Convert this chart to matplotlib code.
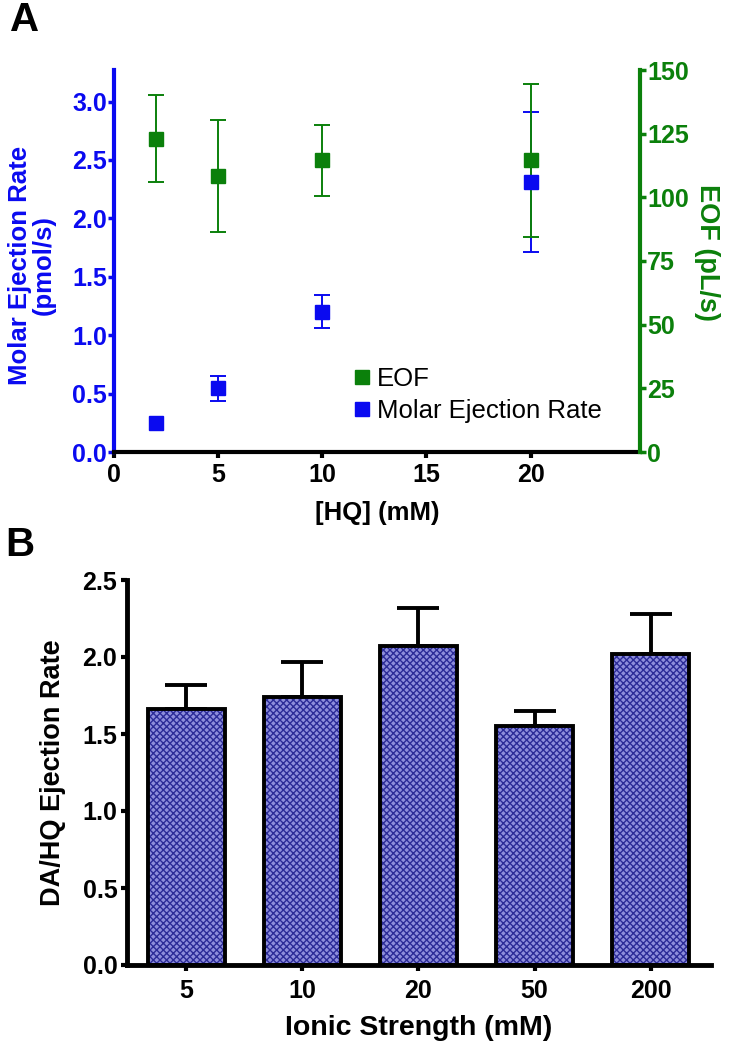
import matplotlib
matplotlib.use("Agg")
import matplotlib.pyplot as plt
from matplotlib.lines import Line2D
import numpy as np

plt.rcParams['font.family'] = ['Liberation Sans', 'DejaVu Sans']

# ---- Panel A data ----
hq = [2, 5, 10, 20]
molar_rate = [0.25, 0.545, 1.20, 2.31]
molar_err = [np.nan, 0.105, 0.14, 0.60]   # first error bar hidden by marker
eof = [123, 108.5, 114.5, 114.5]
eof_err = [17, 22, 14, 30]
a_xticks = [0, 5, 10, 15, 20]
a_yticks = [0.0, 0.5, 1.0, 1.5, 2.0, 2.5, 3.0]
a_y2ticks = [0, 25, 50, 75, 100, 125, 150]

# ---- Panel B data ----
ionic = ['5', '10', '20', '50', '200']
ratio = [1.66, 1.74, 2.07, 1.55, 2.02]
ratio_err = [0.16, 0.23, 0.25, 0.10, 0.26]
b_yticks = [0.0, 0.5, 1.0, 1.5, 2.0, 2.5]

BLUE = '#0a0af0'
GREEN = '#0b800b'
TICK_FS = 18
LAB_FS = 18.5

fig = plt.figure(figsize=(7.38, 10.5), dpi=100)
W, H = 738, 1050

# ================= Panel A =================
axA = fig.add_axes([114/W, 1-452/H, (640-114)/W, (452-70)/H])
axA2 = axA.twinx()

axA.set_xlim(0, 25.25)
axA.set_ylim(0, 3.27)
axA2.set_ylim(0, 150)

axA.errorbar(hq, molar_rate, yerr=molar_err, fmt='none', ecolor=BLUE,
             elinewidth=1.4, capsize=5.5, capthick=1.4, zorder=2)
axA2.errorbar(hq, eof, yerr=eof_err, fmt='s', color=GREEN, ecolor=GREEN,
              markersize=9.5, elinewidth=1.4, capsize=5.5, capthick=1.4, zorder=3)
axA2.plot(hq, molar_rate, 's', color=BLUE, markersize=9.5,
          transform=axA.transData, zorder=4)

for ax in (axA, axA2):
    ax.spines['top'].set_visible(False)
axA.spines['right'].set_visible(False)
axA.spines['left'].set_color(BLUE)
axA.spines['left'].set_linewidth(3)
axA.spines['bottom'].set_linewidth(3)
axA2.spines['left'].set_visible(False)
axA2.spines['bottom'].set_visible(False)
axA2.spines['right'].set_color(GREEN)
axA2.spines['right'].set_linewidth(3)

axA.set_xticks(a_xticks)
axA.set_yticks(a_yticks)
axA.set_yticklabels([f'{v:.1f}' for v in a_yticks])
axA2.set_yticks(a_y2ticks)

axA.tick_params(axis='x', direction='out', length=4, width=3, labelsize=TICK_FS, pad=4)
axA.tick_params(axis='y', direction='out', length=4, width=2.5, colors=BLUE,
                labelsize=TICK_FS, pad=1)
axA2.tick_params(axis='y', direction='out', length=4, width=2.5, colors=GREEN,
                 labelsize=TICK_FS, pad=1)
for lab in axA.get_xticklabels() + axA.get_yticklabels() + axA2.get_yticklabels():
    lab.set_fontweight('bold')

axA.set_xlabel('[HQ] (mM)', fontsize=LAB_FS, fontweight='bold', labelpad=10)
fig.text(32/W, 1-265/H, 'Molar Ejection Rate\n(pmol/s)', fontsize=LAB_FS,
         fontweight='bold', color=BLUE, rotation=90, ha='center', va='center',
         linespacing=0.95, multialignment='center')
fig.text(707/W, 1-252/H, 'EOF (pL/s)', fontsize=19.5, fontweight='bold',
         color=GREEN, rotation=270, ha='center', va='center')

handles = [Line2D([], [], marker='s', color=GREEN, ls='none', markersize=10),
           Line2D([], [], marker='s', color=BLUE, ls='none', markersize=10)]
axA2.legend(handles, ['EOF', 'Molar Ejection Rate'], frameon=False,
            fontsize=18.5, loc='lower left', bbox_to_anchor=(336/W, 1-436/H),
            bbox_transform=fig.transFigure, handletextpad=0.1,
            handlelength=1.0, labelspacing=0.3, borderpad=0)

fig.text(10/W, 1-20/H, 'A', fontsize=29, fontweight='bold', va='center', ha='left')

# ================= Panel B =================
axB = fig.add_axes([127/W, 1-965/H, (711-127)/W, (965-580)/H])
x = np.arange(len(ionic))
axB.bar(x, ratio, width=0.665, color='#8e8edc', edgecolor='#2c2c98',
        hatch='xxxxx', linewidth=0, zorder=2)
axB.bar(x, ratio, width=0.665, facecolor='none', edgecolor='black',
        linewidth=2.8, zorder=3)
axB.errorbar(x, ratio, yerr=[np.zeros(len(ratio)), ratio_err], fmt='none',
             ecolor='black', elinewidth=2.8, capsize=15, capthick=2.8, zorder=1)
axB.set_xlim(-0.51, 4.52)
axB.set_ylim(0, 2.5)
axB.set_xticks(x)
axB.set_xticklabels(ionic)
axB.set_yticks(b_yticks)
axB.set_yticklabels([f'{v:.1f}' for v in b_yticks])
axB.spines['top'].set_visible(False)
axB.spines['right'].set_visible(False)
axB.spines['left'].set_linewidth(3.5)
axB.spines['bottom'].set_linewidth(3.5)
axB.tick_params(axis='both', direction='out', length=4, width=3, labelsize=TICK_FS, pad=3)
axB.tick_params(axis='x', pad=6)
for lab in axB.get_xticklabels() + axB.get_yticklabels():
    lab.set_fontweight('bold')
axB.set_xlabel('Ionic Strength (mM)', fontsize=20.5, fontweight='bold', labelpad=9)
axB.set_ylabel('DA/HQ Ejection Rate', fontsize=19.5, fontweight='bold', labelpad=12)

fig.text(5/W, 1-545/H, 'B', fontsize=29, fontweight='bold', va='center', ha='left')

fig.savefig('out.png', dpi=100)
